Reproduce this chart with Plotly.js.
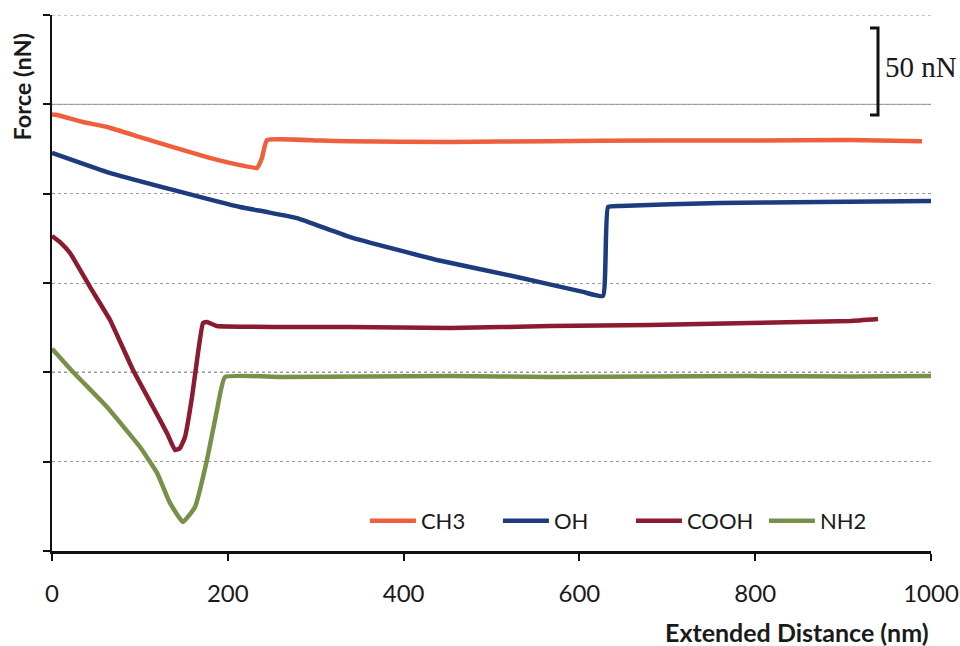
<!DOCTYPE html>
<html>
<head>
<meta charset="utf-8">
<script src="https://cdn.plot.ly/plotly-3.0.1.min.js"></script>
<style>
  html, body { margin: 0; padding: 0; background: #ffffff; }
  #chart { width: 960px; height: 646px; }
</style>
</head>
<body>
<div id="chart"></div>
<script>
// ---- Data (Extended Distance in nm, Force in nN; force axis is relative, 50 nN per grid step) ----
const seriesNames = ["CH3", "OH", "COOH", "NH2"];
const seriesColors = ["#EF5F3C", "#1D3C7E", "#8C1B2F", "#77914A"];

const ch3X = [0, 5.7, 35.3, 62.6, 100.1, 137.7, 176.3, 213.9, 233.2, 238.9, 244.6, 304.9, 339.0, 452.8, 566.6, 680.3, 794.1, 907.8, 989.8];
const ch3Y = [244.3, 244.0, 240.1, 237.3, 231.7, 226.1, 220.5, 216.0, 214.4, 220.0, 230.0, 229.7, 229.4, 228.9, 229.4, 229.7, 229.7, 230.0, 229.4];

const ohX = [0, 62.6, 137.7, 213.9, 244.6, 278.7, 339.0, 438.0, 529.0, 604.1, 626.8, 632.5, 646.2, 759.9, 873.7, 1000];
const ohY = [222.8, 212.1, 202.1, 192.5, 189.7, 186.3, 175.7, 162.9, 153.4, 145.0, 142.7, 192.5, 193.1, 194.8, 195.3, 195.9];

const coohX = [0, 10.0, 20.5, 43.2, 66.0, 92.2, 114.9, 130.8, 139.9, 145.5, 151.3, 159.3, 166.1, 171.8, 176.3, 187.7, 259.4, 339.0, 452.8, 566.6, 680.3, 794.1, 907.8, 939.7];
const coohY = [176.3, 172.5, 166.8, 147.8, 129.3, 101.3, 80.6, 66.0, 56.5, 57.5, 63.8, 86.2, 110.8, 127.6, 128.2, 125.9, 125.4, 125.4, 124.8, 125.9, 126.5, 127.6, 128.7, 129.8];

const nh2X = [0, 3.4, 23.9, 62.6, 100.1, 119.5, 134.2, 149.0, 162.7, 176.3, 187.7, 196.8, 259.4, 452.8, 566.6, 680.3, 794.1, 907.8, 1000];
const nh2Y = [113.1, 111.4, 100.2, 80.6, 58.2, 43.7, 26.9, 16.2, 24.6, 50.9, 78.9, 97.4, 97.4, 97.9, 97.4, 97.6, 97.9, 97.6, 97.9];

const xTickVals = [0, 200, 400, 600, 800, 1000];
const yTickVals = [0, 50, 100, 150, 200, 250, 300];
const scaleBarLabel = "50 nN";

// ---- Traces ----
const xs = [ch3X, ohX, coohX, nh2X];
const ys = [ch3Y, ohY, coohY, nh2Y];
const traces = seriesNames.map((name, i) => ({
  type: "scatter",
  mode: "lines",
  name: name,
  x: xs[i],
  y: ys[i],
  line: { color: seriesColors[i], width: 4.5, shape: "spline", smoothing: 0.35 },
  hoverinfo: "x+y+name"
}));

const layout = {
  width: 960,
  height: 646,
  paper_bgcolor: "#ffffff",
  plot_bgcolor: "#ffffff",
  margin: { l: 52, r: 29, t: 15, b: 95, pad: 0 },
  font: { family: "Lato, 'Liberation Sans', sans-serif", color: "#1a1a1a" },
  showlegend: true,
  legend: {
    orientation: "h",
    x: 0.356,
    y: 0.056,
    xanchor: "left",
    yanchor: "middle",
    bgcolor: "rgba(0,0,0,0)",
    font: { family: "Lato, sans-serif", size: 22, color: "#1a1a1a" },
    itemwidth: 46,
    entrywidth: 72,
    entrywidthmode: "pixels",
    tracegroupgap: 0
  },
  xaxis: {
    range: [0, 1000],
    tickmode: "array",
    tickvals: xTickVals,
    ticktext: xTickVals.map(String),
    ticks: "outside",
    ticklen: 7,
    tickwidth: 2,
    tickcolor: "#111",
    ticklabelstandoff: 13,
    showline: true,
    linecolor: "#111",
    linewidth: 2.5,
    showgrid: false,
    zeroline: false,
    tickfont: { family: "Lato, sans-serif", size: 24, color: "#1a1a1a" },
    fixedrange: true
  },
  yaxis: {
    range: [0, 300],
    tickmode: "array",
    tickvals: yTickVals,
    ticks: "outside",
    ticklen: 7,
    tickwidth: 2,
    tickcolor: "#111",
    showticklabels: false,
    showline: true,
    linecolor: "#111",
    linewidth: 2.5,
    showgrid: true,
    gridcolor: "#9a9a9a",
    gridwidth: 1,
    griddash: "dot",
    zeroline: false,
    fixedrange: true
  },
  shapes: [
    { type: "line", xref: "paper", yref: "y", x0: 0, x1: 1, y0: 300, y1: 300, layer: "below",
      line: { color: "#8a8a8a", width: 1.2, dash: "dot" } },
    { type: "line", xref: "paper", yref: "y", x0: 0, x1: 1, y0: 250, y1: 250, layer: "below",
      line: { color: "#a8a8a8", width: 1.2 } },
    { type: "line", xref: "paper", yref: "y", x0: 0, x1: 1, y0: 100, y1: 100, layer: "below",
      line: { color: "#333333", width: 1.2, dash: "dot" } },
    { type: "path", xref: "x", yref: "y", layer: "above",
      path: "M 930.6 292.7 L 939.7 292.7 L 939.7 244.0 L 930.6 244.0",
      line: { color: "#111", width: 3 } }
  ],
  annotations: [
    { text: "<b>Extended Distance (nm)</b>", xref: "paper", yref: "paper",
      x: 1, y: 0, xanchor: "right", yanchor: "middle", yshift: -81, showarrow: false,
      font: { family: "Lato, sans-serif", size: 25, color: "#1a1a1a" } },
    { text: "<b>Force (nN)</b>", xref: "paper", yref: "paper",
      x: 0, y: 1, xanchor: "center", yanchor: "top", xshift: -31, yshift: -17,
      textangle: -90, showarrow: false,
      font: { family: "Lato, sans-serif", size: 23.5, color: "#1a1a1a" } },
    { text: scaleBarLabel, xref: "x", yref: "y", x: 945, y: 271, xanchor: "left", yanchor: "middle",
      showarrow: false,
      font: { family: "'Liberation Serif', 'Times New Roman', serif", size: 29, color: "#1a1a1a" } }
  ]
};

Plotly.newPlot("chart", traces, layout, { displayModeBar: false, staticPlot: true });
</script>
</body>
</html>
